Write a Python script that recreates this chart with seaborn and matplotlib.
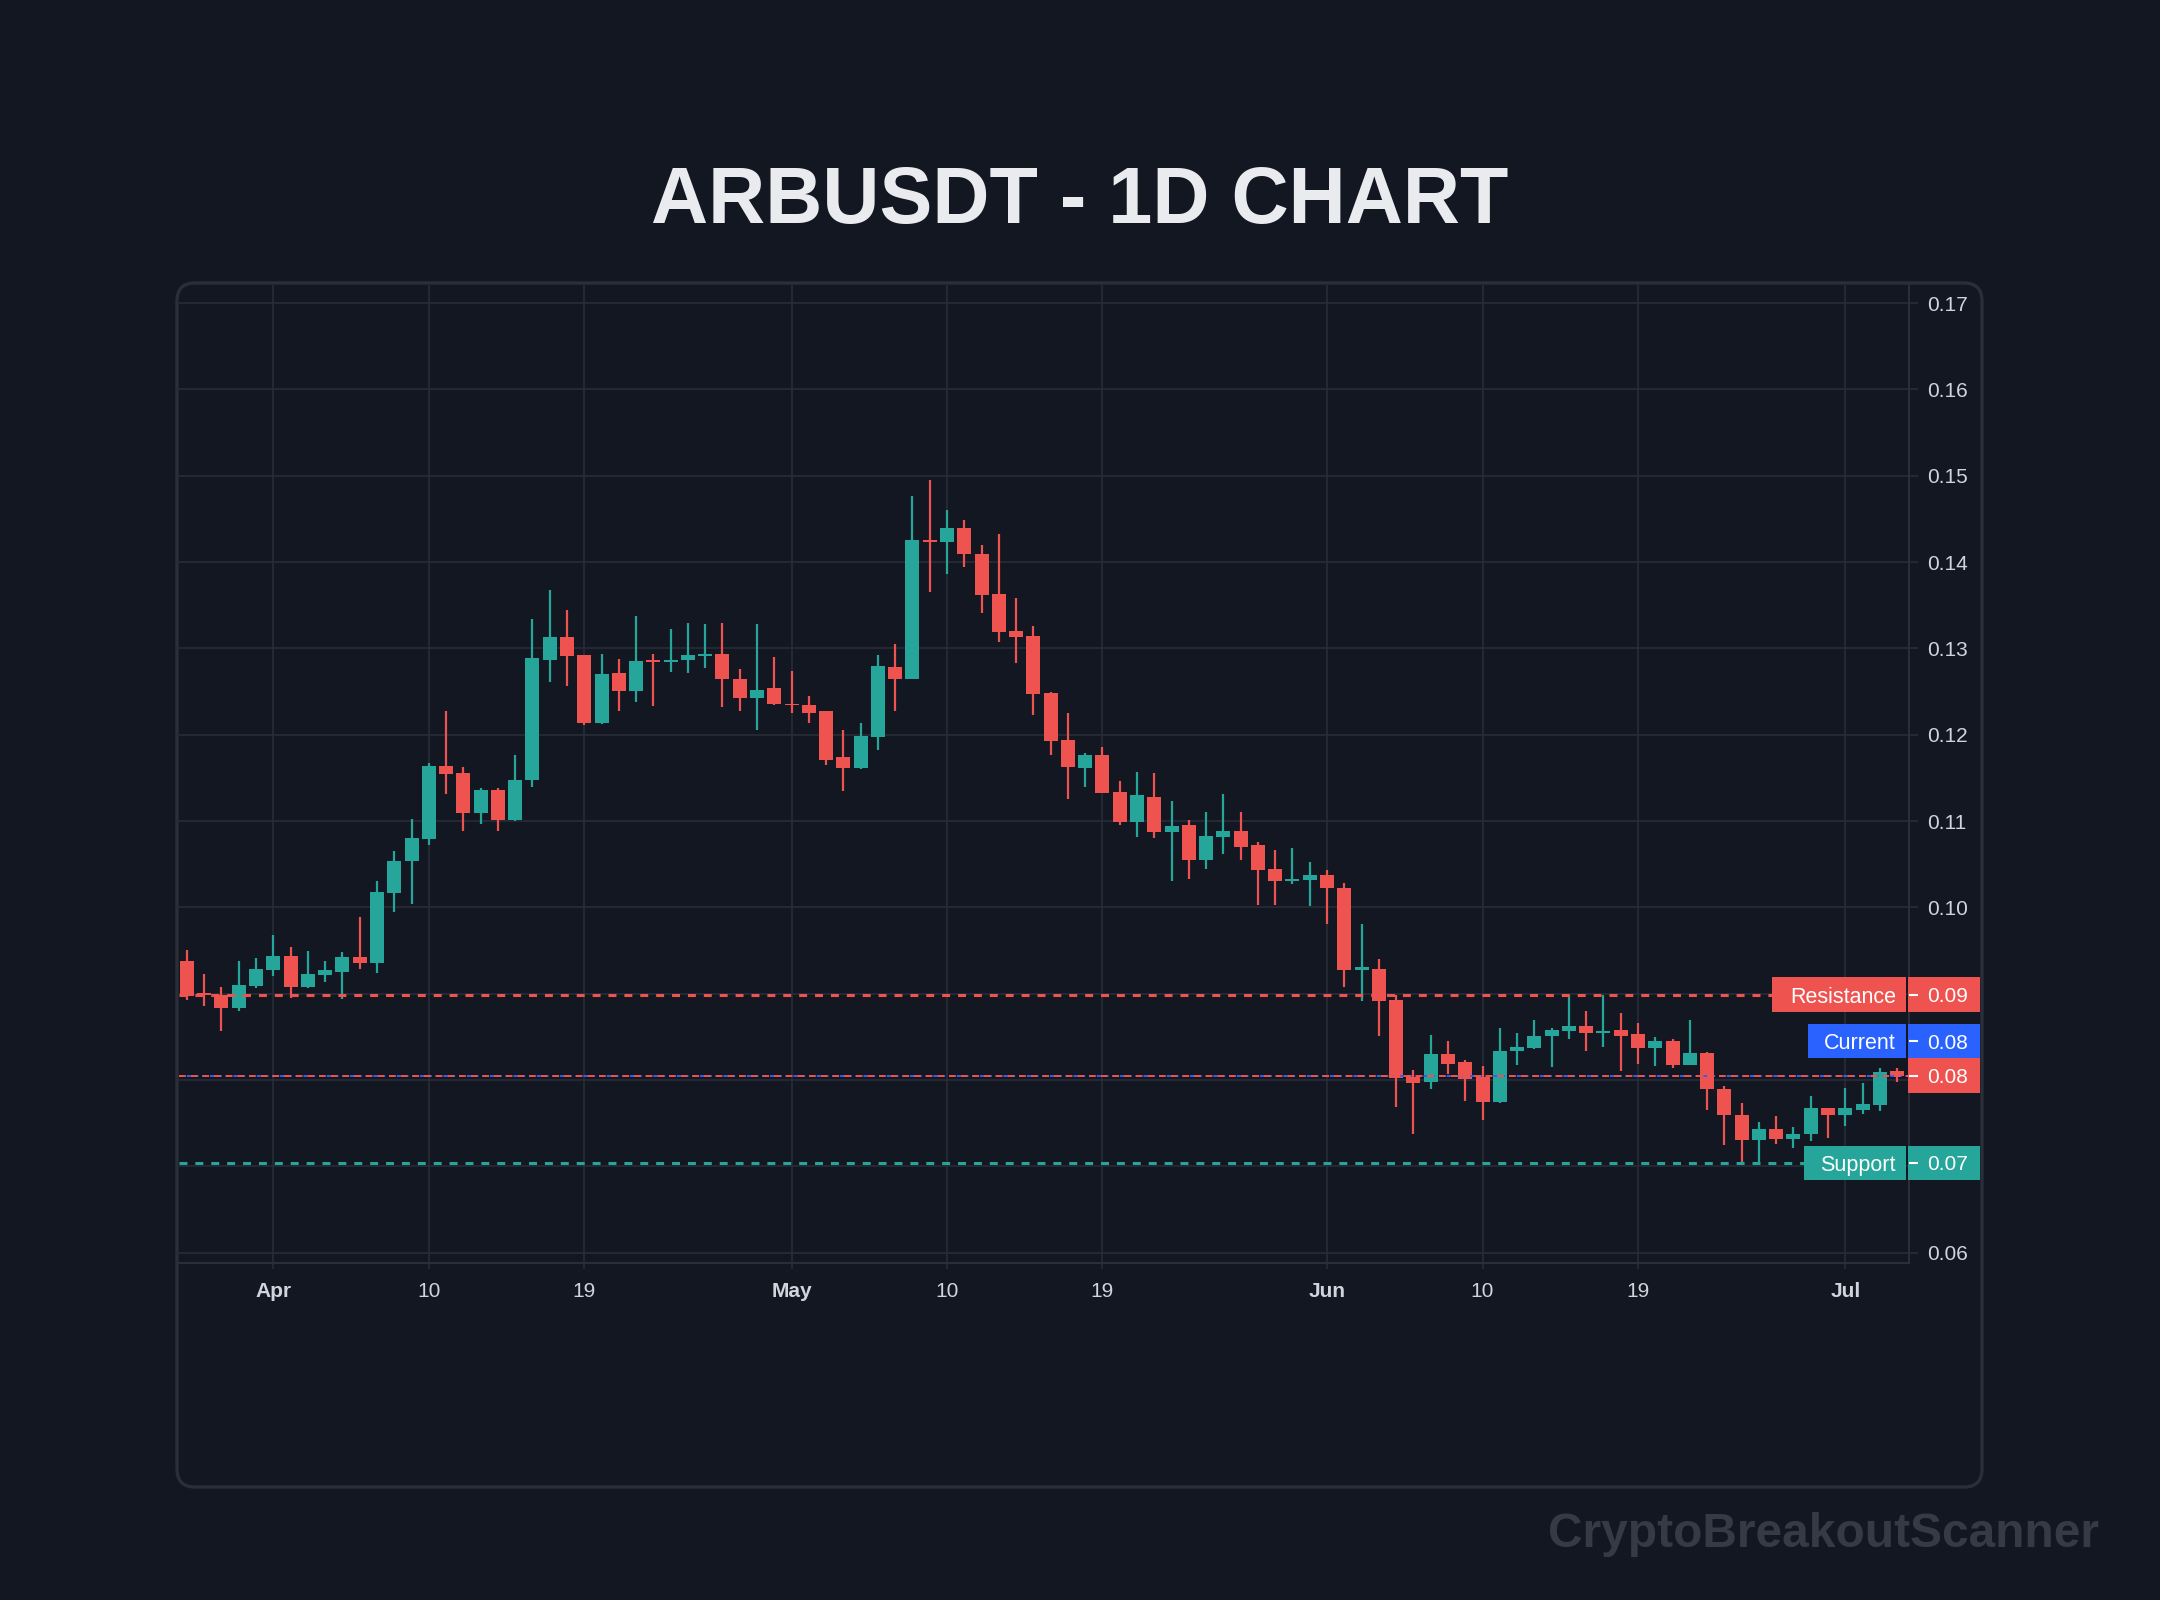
import numpy as np
import pandas as pd
import matplotlib
matplotlib.use("Agg")
from matplotlib import pyplot as plt
from matplotlib.patches import FancyBboxPatch, Rectangle
from matplotlib.transforms import IdentityTransform
import seaborn as sns

# Daily candles
start_date = "2025-03-27"
opens = [0.0938, 0.0901, 0.0898, 0.0883, 0.0909, 0.0928, 0.0944, 0.0908, 0.0922, 0.0925,
         0.0943, 0.0936, 0.1017, 0.1054, 0.1079, 0.1164, 0.1156, 0.1109, 0.1136, 0.1101,
         0.1148, 0.1287, 0.1313, 0.1292, 0.1214, 0.1271, 0.1251, 0.1286, 0.1284, 0.1286,
         0.1291, 0.1294, 0.1265, 0.1243, 0.1254, 0.1236, 0.1235, 0.1227, 0.1174, 0.1162,
         0.1197, 0.1279, 0.1265, 0.1425, 0.1423, 0.1439, 0.1409, 0.1363, 0.1320, 0.1314,
         0.1248, 0.1194, 0.1162, 0.1176, 0.1134, 0.1099, 0.1128, 0.1087, 0.1095, 0.1055,
         0.1082, 0.1088, 0.1072, 0.1044, 0.1031, 0.1032, 0.1037, 0.1023, 0.0928, 0.0929,
         0.0893, 0.0803, 0.0798, 0.0830, 0.0821, 0.0803, 0.0774, 0.0834, 0.0837, 0.0851,
         0.0857, 0.0862, 0.0855, 0.0858, 0.0853, 0.0837, 0.0845, 0.0817, 0.0831, 0.0790,
         0.0760, 0.0731, 0.0743, 0.0732, 0.0737, 0.0767, 0.0760, 0.0765, 0.0771, 0.0810]
highs = [0.0951, 0.0923, 0.0908, 0.0938, 0.0941, 0.0968, 0.0954, 0.0949, 0.0938, 0.0948,
         0.0989, 0.1031, 0.1065, 0.1102, 0.1167, 0.1227, 0.1163, 0.1138, 0.1138, 0.1176,
         0.1334, 0.1368, 0.1344, 0.1292, 0.1294, 0.1288, 0.1338, 0.1293, 0.1323, 0.1330,
         0.1328, 0.1329, 0.1276, 0.1328, 0.1290, 0.1274, 0.1245, 0.1228, 0.1206, 0.1214,
         0.1292, 0.1305, 0.1476, 0.1495, 0.1460, 0.1449, 0.1420, 0.1433, 0.1358, 0.1326,
         0.1250, 0.1225, 0.1179, 0.1186, 0.1146, 0.1157, 0.1156, 0.1123, 0.1101, 0.1111,
         0.1131, 0.1111, 0.1076, 0.1066, 0.1069, 0.1052, 0.1043, 0.1028, 0.0981, 0.0940,
         0.0898, 0.0811, 0.0852, 0.0845, 0.0823, 0.0816, 0.0860, 0.0854, 0.0869, 0.0860,
         0.0898, 0.0880, 0.0898, 0.0878, 0.0866, 0.0850, 0.0847, 0.0869, 0.0833, 0.0793,
         0.0773, 0.0751, 0.0758, 0.0745, 0.0782, 0.0768, 0.0791, 0.0796, 0.0814, 0.0814]
lows = [0.0893, 0.0886, 0.0857, 0.0880, 0.0907, 0.0920, 0.0895, 0.0906, 0.0913, 0.0894,
        0.0929, 0.0924, 0.0995, 0.1004, 0.1072, 0.1131, 0.1089, 0.1097, 0.1089, 0.1100,
        0.1140, 0.1261, 0.1256, 0.1211, 0.1212, 0.1227, 0.1238, 0.1233, 0.1273, 0.1271,
        0.1277, 0.1232, 0.1228, 0.1205, 0.1234, 0.1225, 0.1214, 0.1165, 0.1135, 0.1160,
        0.1182, 0.1227, 0.1264, 0.1365, 0.1386, 0.1394, 0.1341, 0.1307, 0.1283, 0.1223,
        0.1177, 0.1125, 0.1139, 0.1132, 0.1095, 0.1082, 0.1080, 0.1030, 0.1033, 0.1045,
        0.1062, 0.1055, 0.1003, 0.1003, 0.1027, 0.1001, 0.0981, 0.0908, 0.0891, 0.0851,
        0.0769, 0.0738, 0.0790, 0.0807, 0.0776, 0.0754, 0.0773, 0.0817, 0.0836, 0.0815,
        0.0847, 0.0834, 0.0838, 0.0810, 0.0819, 0.0816, 0.0814, 0.0817, 0.0765, 0.0725,
        0.0703, 0.0703, 0.0726, 0.0721, 0.0729, 0.0733, 0.0747, 0.0761, 0.0764, 0.0798]
closes = [0.0897, 0.0898, 0.0883, 0.0910, 0.0929, 0.0944, 0.0908, 0.0923, 0.0927, 0.0942,
          0.0936, 0.1018, 0.1054, 0.1080, 0.1164, 0.1154, 0.1109, 0.1136, 0.1101, 0.1148,
          0.1289, 0.1313, 0.1291, 0.1213, 0.1270, 0.1251, 0.1285, 0.1284, 0.1286, 0.1292,
          0.1294, 0.1265, 0.1243, 0.1252, 0.1236, 0.1234, 0.1225, 0.1171, 0.1162, 0.1199,
          0.1280, 0.1264, 0.1425, 0.1423, 0.1440, 0.1409, 0.1362, 0.1319, 0.1313, 0.1247,
          0.1193, 0.1163, 0.1176, 0.1133, 0.1099, 0.1130, 0.1087, 0.1094, 0.1055, 0.1083,
          0.1088, 0.1070, 0.1043, 0.1031, 0.1033, 0.1037, 0.1022, 0.0928, 0.0931, 0.0891,
          0.0802, 0.0797, 0.0830, 0.0819, 0.0801, 0.0774, 0.0834, 0.0838, 0.0851, 0.0858,
          0.0862, 0.0854, 0.0857, 0.0851, 0.0837, 0.0845, 0.0817, 0.0831, 0.0789, 0.0759,
          0.0731, 0.0743, 0.0732, 0.0738, 0.0767, 0.0759, 0.0767, 0.0772, 0.0809, 0.0805]

resistance = 0.0899
support = 0.0704

tick_dates = ["2025-04-01", "2025-04-10", "2025-04-19", "2025-05-01", "2025-05-10",
              "2025-05-19", "2025-06-01", "2025-06-10", "2025-06-19", "2025-07-01"]
tick_labels = ["Apr", "10", "19", "May", "10", "19", "Jun", "10", "19", "Jul"]
price_ticks = [0.06, 0.07, 0.08, 0.09, 0.10, 0.11, 0.12, 0.13, 0.14, 0.15, 0.16, 0.17]

# colours
BG = "#131722"
GRID = "#2a2e39"
UP = "#26a69a"
DOWN = "#ef5350"
BLUE = "#2962ff"
TEXT = "#d1d4dc"

sns.set_theme(style="dark", rc={"axes.facecolor": BG, "figure.facecolor": BG,
                                "savefig.facecolor": BG, "grid.color": GRID})
plt.rcParams["font.family"] = ["Liberation Sans", "DejaVu Sans"]

df = pd.DataFrame({"open": opens, "high": highs, "low": lows, "close": closes})
df["date"] = pd.date_range(start_date, periods=len(df), freq="D")
df["x"] = (df["date"] - df["date"].iloc[0]).dt.days
df["up"] = df["close"] >= df["open"]
colors = np.where(df["up"], UP, DOWN)

fig = plt.figure(figsize=(21.6, 16), dpi=100)
ax = fig.add_axes([0.08287, 0.21063, 0.80093, 0.61125])
ax.set_facecolor(BG)

# candles
ax.vlines(df["x"], df["low"], df["high"], colors=colors, lw=1.6, zorder=3)
body = (df["close"] - df["open"]).abs().clip(lower=0.00015)
ax.bar(df["x"], body, bottom=df[["open", "close"]].min(axis=1), width=0.81,
       color=colors, linewidth=0, zorder=4)

ax.set_xlim(-0.46, df["x"].iloc[-1] + 0.69)
ax.set_ylim(0.0588, 0.1721)

# axes / grid
tick_pos = [(pd.Timestamp(d) - df["date"].iloc[0]).days for d in tick_dates]
ax.set_xticks(tick_pos)
ax.set_xticklabels(tick_labels)
for lab in ax.get_xticklabels():
    if not lab.get_text().isdigit():
        lab.set_fontweight("bold")
ax.set_yticks(price_ticks)
ax.set_yticklabels([f"{v:.2f}" for v in price_ticks])
ax.yaxis.tick_right()
ax.grid(True, color=GRID, lw=1.1)
ax.tick_params(axis="y", length=6.5, width=1.1, color=GRID, pad=6.5,
               labelsize=15, labelcolor=TEXT)
ax.tick_params(axis="x", length=4.5, width=1.1, color=GRID, pad=9,
               labelsize=15, labelcolor=TEXT)
ax.tick_params(axis="x", which="both", bottom=True)
ax.tick_params(axis="y", which="both", right=True)
for side in ["left", "top"]:
    ax.spines[side].set_visible(False)
for side in ["right", "bottom"]:
    ax.spines[side].set_color(GRID)
    ax.spines[side].set_linewidth(1.5)

# level lines
current = closes[-1]
ax.axhline(resistance, color=DOWN, lw=2.2, ls=(0, (2.6, 2.6)), zorder=5)
ax.axhline(support, color=UP, lw=2.2, ls=(0, (2.6, 2.6)), zorder=5)
ax.axhline(current, color=BLUE, lw=1.4, ls=(0, (2, 2)), zorder=5)
ax.axhline(current, color=DOWN, lw=1.4, ls=(0, (3.5, 2.5)), zorder=5)

# price labels on the right scale
trans = ax.get_yaxis_transform()
box_h = 0.0040


def price_label(y, color, value, name=None, name_left=None):
    ax.add_patch(Rectangle((0.9994, y - box_h / 2), 0.0416, box_h, transform=trans,
                           fc=color, ec="none", clip_on=False, zorder=10))
    ax.plot([1.0, 1.0052], [y, y], transform=trans, color="white", lw=1.5,
            clip_on=False, zorder=11, solid_capstyle="butt")
    ax.text(1.0104, y, f"{value:.2f}", transform=trans, ha="left", va="center_baseline",
            fontsize=15, color="white", clip_on=False, zorder=12)
    if name:
        ax.add_patch(Rectangle((name_left, y - box_h / 2), 0.9983 - name_left, box_h,
                               transform=trans, fc=color, ec="none", clip_on=False,
                               zorder=10))
        ax.text(0.9925, y, name, transform=trans, ha="right", va="center_baseline",
                fontsize=15.5, color="white", clip_on=False, zorder=12)


price_label(resistance, DOWN, resistance, "Resistance", 0.9208)
price_label(support, UP, support, "Support", 0.9393)
price_label(current, DOWN, current)
# the "Current" tag sits one label height above the last-price tag
price_label(current + box_h, BLUE, current, "Current", 0.9416)

# rounded panel frame
panel = FancyBboxPatch((177, 1600 - 1487), 1982 - 177, 1487 - 283,
                       boxstyle="round,pad=0,rounding_size=18",
                       transform=IdentityTransform(), fill=False, ec=GRID, lw=2.4,
                       zorder=5)
fig.add_artist(panel)

fig.text(0.5, 0.8606, "ARBUSDT - 1D CHART", ha="center", va="baseline",
         fontsize=57, fontweight="bold", color="#e9ebef")
fig.text(0.9718, 0.0331, "CryptoBreakoutScanner", ha="right", va="baseline",
         fontsize=34.5, fontweight="bold", color="#363a45")

fig.savefig("out.png", dpi=100, facecolor=BG)
